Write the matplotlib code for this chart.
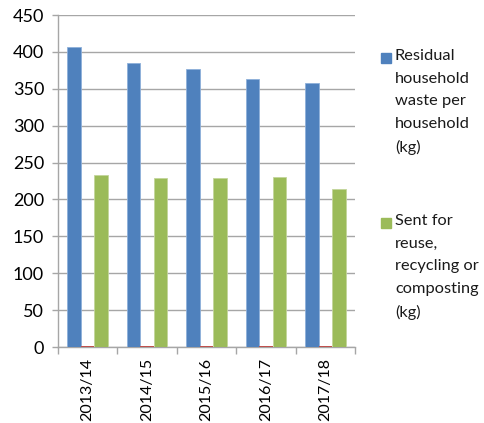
import matplotlib
matplotlib.use("Agg")
import matplotlib.pyplot as plt
import numpy as np
from matplotlib.patches import Rectangle

categories = ["2013/14", "2014/15", "2015/16", "2016/17", "2017/18"]
residual = [406, 385, 377, 363, 358]
other = [1.5, 1.5, 1.5, 1.5, 1.5]
recycled = [233, 229, 229, 230, 214]
legend_labels = ["Residual\nhousehold\nwaste per\nhousehold\n(kg)",
                 "Sent for\nreuse,\nrecycling or\ncomposting\n(kg)"]

blue = "#4F81BD"
red = "#C0504D"
green = "#9BBB59"
grid = "#A6A6A6"

plt.rcParams['font.family'] = ['Lato', 'DejaVu Sans']

fig = plt.figure(figsize=(4.84, 4.23), dpi=100)
W, H = 484, 423
ax = fig.add_axes([58 / W, 1 - 347 / H, (355 - 58) / W, (347 - 15) / H])

x = np.arange(len(categories))
bw = 0.228
ax.bar(x - bw, residual, bw, color=blue, edgecolor="#8EB0DA", linewidth=0.6, zorder=3)
ax.bar(x, other, bw, color=red, zorder=3)
ax.bar(x + bw, recycled, bw, color=green, edgecolor="#C3D69B", linewidth=0.6, zorder=3)

ax.set_xlim(-0.5, len(categories) - 0.5)
ax.set_ylim(0, 450)
ax.set_yticks(range(0, 451, 50))
ax.yaxis.grid(True, color=grid, linewidth=1.0, zorder=0)
ax.set_axisbelow(True)

ax.set_xticks(x)
ax.set_xticklabels(categories, rotation=90, fontsize=11.5)
ax.tick_params(axis='x', length=0, pad=8)
ax.set_xticks(np.arange(-0.5, len(categories), 1), minor=True)
ax.tick_params(axis='x', which='minor', length=5, color=grid, width=1)
ax.tick_params(axis='y', length=4, color=grid, width=1, labelsize=13, pad=6)

for s in ["top", "right"]:
    ax.spines[s].set_visible(False)
for s in ["left", "bottom"]:
    ax.spines[s].set_color(grid)
    ax.spines[s].set_linewidth(1.0)

# legend
for (ytop, col, lab) in [(53, blue, legend_labels[0]), (218, green, legend_labels[1])]:
    fig.patches.append(Rectangle((381 / W, 1 - (ytop + 10) / H), 10 / W, 10 / H,
                                 transform=fig.transFigure, color=col))
    fig.text(395 / W, 1 - (ytop - 4) / H, lab, fontsize=11.8, va="top", ha="left",
             linespacing=1.78, color="#1a1a1a")

fig.savefig("out.png", dpi=100)
